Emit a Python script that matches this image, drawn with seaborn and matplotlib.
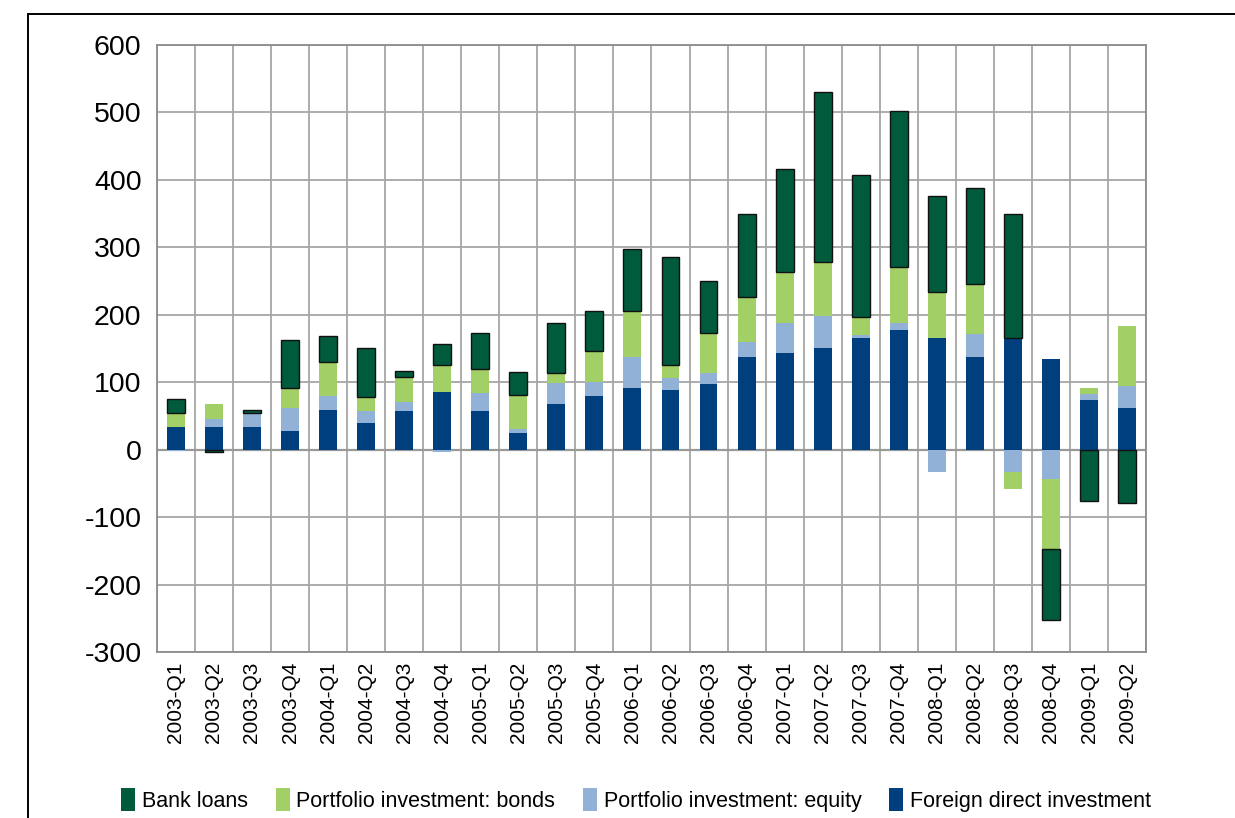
# stacked quarterly capital inflows, positive and negative parts stacked apart
import numpy as np
import pandas as pd
import matplotlib
matplotlib.use('Agg')
import matplotlib.pyplot as plt
from matplotlib.patches import Patch, Rectangle
import seaborn as sns

quarters = [f'{y}-Q{q}' for y in range(2003, 2010) for q in range(1, 5)][:26]

fdi = [34, 34, 33, 28, 59, 40, 58, 85, 58, 25, 68, 79, 91, 88, 98, 138, 143, 150,
       165, 177, 165, 138, 165, 135, 73, 62]
equity = [-2, 12, 21, 33, 21, 18, 12, -3, 26, 5, 31, 21, 46, 18, 15, 21, 45, 48,
          5, 11, -33, 33, -33, -44, 9, 33]
bonds = [21, 21, -1, 31, 50, 20, 37, 41, 35, 51, 14, 46, 69, 19, 60, 68, 75, 80,
         26, 83, 68, 75, -25, -104, 10, 89]
loans = [20, -3, 5, 70, 39, 73, 9, 30, 54, 34, 75, 59, 92, 160, 77, 122, 153, 253,
         211, 231, 143, 142, 185, -104, -76, -79]

series = ['Foreign direct investment', 'Portfolio investment: equity',
          'Portfolio investment: bonds', 'Bank loans']
colors = {'Foreign direct investment': '#003f7d',
          'Portfolio investment: equity': '#92b1d7',
          'Portfolio investment: bonds': '#a2cf66',
          'Bank loans': '#005a3c'}

df = pd.DataFrame({'quarter': quarters,
                   'Foreign direct investment': fdi,
                   'Portfolio investment: equity': equity,
                   'Portfolio investment: bonds': bonds,
                   'Bank loans': loans})

sns.set_theme(style='white')
plt.rcParams['font.family'] = ['Liberation Sans', 'DejaVu Sans']
plt.rcParams['axes.unicode_minus'] = False
plt.rcParams['text.color'] = 'black'
plt.rcParams['xtick.color'] = 'black'
plt.rcParams['ytick.color'] = 'black'

fig = plt.figure(figsize=(12.35, 8.18), dpi=100)
ax = fig.add_axes([0.127, 0.203, 0.801, 0.742])

pos_base = np.zeros(len(quarters))
neg_base = np.zeros(len(quarters))
for name in series:
    vals = df[name].to_numpy(dtype=float)
    bottom = np.where(vals >= 0, pos_base, neg_base)
    is_loans = name == 'Bank loans'
    sns.barplot(x=df['quarter'], y=vals, bottom=bottom, color=colors[name],
                width=0.47, errorbar=None, ax=ax, saturation=1,
                edgecolor='#111111' if is_loans else 'none',
                linewidth=1.0 if is_loans else 0, zorder=3)
    pos_base = pos_base + np.clip(vals, 0, None)
    neg_base = neg_base + np.clip(vals, None, 0)

ax.set_ylim(-300, 600)
ax.set_xlim(-0.5, len(quarters) - 0.5)
ax.set_yticks(range(-300, 601, 100))
ax.set_xticks(range(len(quarters)))
ax.set_xticklabels(quarters, rotation=90, fontsize=15)
ax.set_xticks(np.arange(-0.5, len(quarters), 1), minor=True)
ax.tick_params(axis='y', labelsize=20.5, length=0, pad=11)
ax.tick_params(axis='x', which='both', length=0, pad=7)
ax.set_xlabel('')
ax.set_ylabel('')
ax.grid(axis='y', color='#a6a6a6', linewidth=1.3, zorder=0)
ax.grid(axis='x', which='minor', color='#a6a6a6', linewidth=1.3, zorder=0)
ax.axhline(0, color='#999999', linewidth=1.6, zorder=2)
for s in ax.spines.values():
    s.set_color('#8c8c8c')
    s.set_linewidth(1.3)

handles = [Patch(facecolor=colors[n], edgecolor='none') for n in series[::-1]]
fig.legend(handles, series[::-1], loc='center', bbox_to_anchor=(0.515, 1 - 800 / 818),
           ncol=4, frameon=False, fontsize=15.5, handlelength=0.65, handleheight=1.25,
           handletextpad=0.3, columnspacing=1.3)

# outer frame of the original figure box
fig.patches.append(Rectangle((28 / 1235, -0.2), 1.2, 1.2 - 14 / 818,
                             transform=fig.transFigure, fill=False,
                             edgecolor='black', linewidth=1.4, clip_on=False))

fig.savefig('out.png', dpi=100)
